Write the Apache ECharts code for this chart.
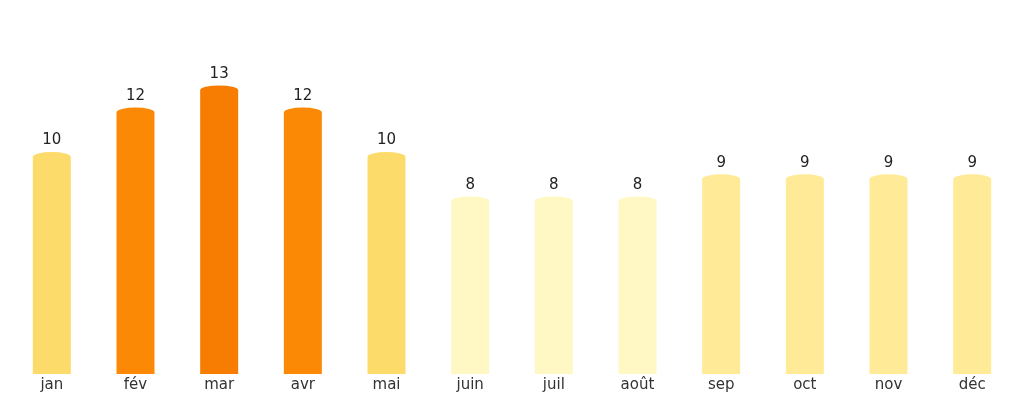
<!DOCTYPE html>
<html><head><meta charset="utf-8">
<script src="https://cdn.jsdelivr.net/npm/echarts@6/dist/echarts.min.js"></script>
<style>html,body{margin:0;padding:0;background:#fff}#c{width:1024px;height:404px}</style>
</head><body><div id="c"></div>
<script>
const categories = ['jan','fév','mar','avr','mai','juin','juil','août','sep','oct','nov','déc'];
const values = [10,12,13,12,10,8,8,8,9,9,9,9];
const barColors = ['#FDDB6B','#FB8906','#F77D02','#FB8906','#FDDB6B','#FFF8C4','#FFF8C4','#FFF8C4','#FFEA98','#FFEA98','#FFEA98','#FFEA98'];
const chart = echarts.init(document.getElementById('c'));
chart.setOption({
  animation:false,
  grid:{left:10,right:10,top:41,bottom:30},
  xAxis:{type:'category',data:categories,
    axisLine:{show:false},axisTick:{show:false},
    axisLabel:{fontFamily:'DejaVu Sans',fontSize:15,color:'#333',margin:4}},
  yAxis:{type:'value',min:0,max:15,show:false,splitLine:{show:false}},
  series:[{type:'custom',
    data:values.map((v,i)=>[i,v]),
    renderItem:function(params,api){
      const i=api.value(0), v=api.value(1);
      const top=api.coord([i,v]), base=api.coord([i,0]);
      const w=38, rx=w/2, ry=5;
      const x0=top[0]-rx, x1=top[0]+rx;
      const yc=top[1]+ry;
      const path='M'+x0+' '+base[1]+' L'+x0+' '+yc+' A'+rx+' '+ry+' 0 0 1 '+x1+' '+yc+' L'+x1+' '+base[1]+' Z';
      return {type:'group',children:[
        {type:'path',shape:{pathData:path},style:{fill:barColors[i]}},
        {type:'text',style:{text:String(v),x:top[0],y:top[1]-4,align:'center',verticalAlign:'bottom',
          font:'15px "DejaVu Sans"',fill:'#222'}}
      ]};
    }}]
});
</script></body></html>
